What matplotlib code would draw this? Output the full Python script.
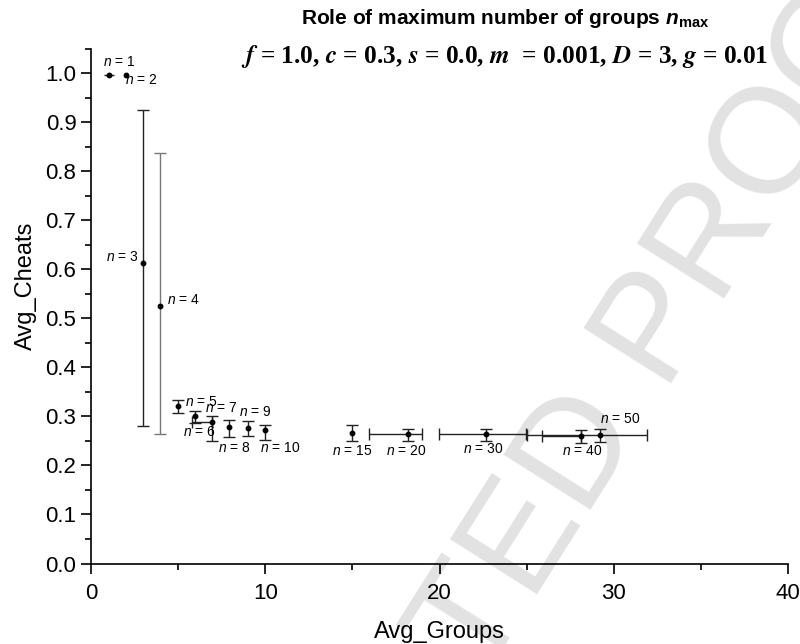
import matplotlib
matplotlib.use("Agg")
import matplotlib.pyplot as plt
from matplotlib.ticker import MultipleLocator

plt.rcParams['font.family'] = ['Liberation Sans', 'DejaVu Sans']
plt.rcParams['mathtext.fontset'] = 'custom'
plt.rcParams['mathtext.it'] = 'Liberation Sans:italic'
plt.rcParams['mathtext.bf'] = 'Liberation Sans:bold'
plt.rcParams['mathtext.bfit'] = 'Liberation Sans:italic:bold'
plt.rcParams['mathtext.rm'] = 'Liberation Sans'

# data
n_labels = [1, 2, 3, 4, 5, 6, 7, 8, 9, 10, 15, 20, 30, 40, 50]
avg_groups = [1.03, 2.0, 3.0, 3.96, 4.97, 5.98, 6.96, 7.94, 8.99, 9.98, 14.95, 18.17, 22.64, 28.11, 29.20]
avg_cheats = [0.997, 0.997, 0.613, 0.526, 0.322, 0.300, 0.289, 0.278, 0.276, 0.272, 0.266, 0.264, 0.264, 0.260, 0.262]
yerr_low = [0.0, 0.0, 0.332, 0.262, 0.015, 0.014, 0.040, 0.019, 0.015, 0.019, 0.016, 0.015, 0.015, 0.015, 0.014]
yerr_high = [0.0, 0.0, 0.313, 0.311, 0.012, 0.012, 0.011, 0.015, 0.015, 0.011, 0.017, 0.010, 0.010, 0.012, 0.012]
xerr_low = [0.3, 0.0, 0.0, 0.0, 0.0, 0.0, 1.18, 0.0, 0.0, 0.0, 0.0, 2.20, 2.67, 2.20, 4.20]
xerr_high = [0.3, 0.0, 0.0, 0.0, 0.0, 0.0, 0.0, 0.0, 0.0, 0.0, 0.0, 0.80, 2.32, 0.0, 2.68]
label_x = [0.69, 1.95, 2.75, 4.36, 5.39, 5.28, 6.54, 7.29, 8.49, 9.70, 13.83, 16.92, 21.34, 27.02, 29.20]
label_y = [1.023, 0.987, 0.626, 0.537, 0.330, 0.269, 0.317, 0.235, 0.309, 0.235, 0.230, 0.230, 0.233, 0.230, 0.294]
label_ha = ['left', 'left', 'right', 'left', 'left', 'left', 'left', 'left', 'left', 'left',
            'left', 'left', 'left', 'left', 'left']

fig = plt.figure(figsize=(8, 6.44), dpi=100)
ax = fig.add_axes([0.11375, 0.125, 0.87125, 0.799])
ax.patch.set_alpha(0)

# watermark
fig.text(545/800, 1 - 510/644, "ACCEPTED PROOF", fontsize=108, color='#e2e2e2',
         rotation=57.7, ha='center', va='center', rotation_mode='anchor', zorder=-5,
         family='Liberation Sans')

for i in range(len(n_labels)):
    col = '#777777' if n_labels[i] == 4 else '#222222'
    xe = None
    if xerr_low[i] > 0 or xerr_high[i] > 0:
        xe = [[xerr_low[i]], [xerr_high[i]]]
    ye = None
    if yerr_low[i] > 0 or yerr_high[i] > 0:
        ye = [[yerr_low[i]], [yerr_high[i]]]
    cs = 0 if n_labels[i] == 1 else 4.5
    ax.errorbar([avg_groups[i]], [avg_cheats[i]], xerr=xe, yerr=ye, fmt='o',
                color='black', ms=3.2, ecolor=col, elinewidth=1.0, capsize=cs,
                capthick=1.0, zorder=3)
    ax.text(label_x[i], label_y[i], r"$\it{n}$" + " = %d" % n_labels[i], fontsize=10,
            ha=label_ha[i], va='center', zorder=4)

ax.set_xlim(0, 40)
ax.set_ylim(0, 1.05)
ax.xaxis.set_major_locator(MultipleLocator(10))
ax.xaxis.set_minor_locator(MultipleLocator(5))
ax.yaxis.set_major_locator(MultipleLocator(0.1))
ax.yaxis.set_minor_locator(MultipleLocator(0.05))
ax.yaxis.set_major_formatter(matplotlib.ticker.FormatStrFormatter('%.1f'))
for s in ['top', 'right']:
    ax.spines[s].set_visible(False)
for s in ['left', 'bottom']:
    ax.spines[s].set_linewidth(1.2)
ax.tick_params(which='major', direction='out', length=7, width=1.2, labelsize=16)
ax.tick_params(axis='x', which='major', pad=7)
ax.tick_params(which='minor', direction='out', length=4, width=1.2)
ax.set_xlabel("Avg_Groups", fontsize=17, labelpad=12)
ax.set_ylabel("Avg_Cheats", fontsize=17)
ax.yaxis.set_label_coords(-0.078, 0.54)

fig.text(505/800, 1 - 19/644, r"Role of maximum number of groups $\mathbfit{n}_{\mathbf{max}}$",
         fontsize=15, fontweight='bold', ha='center', va='center')
fig.text(505/800, 1 - 56/644,
         r"$\mathbfit{f}$ = 1.0, $\mathbfit{c}$ = 0.3, $\mathbfit{s}$ = 0.0, $\mathbfit{m}$  = 0.001, $\mathbfit{D}$ = 3, $\mathbfit{g}$ = 0.01",
         fontsize=18.3, fontweight='bold', family='Liberation Serif', math_fontfamily='stix',
         ha='center', va='center')

fig.savefig("out.png", dpi=100)
